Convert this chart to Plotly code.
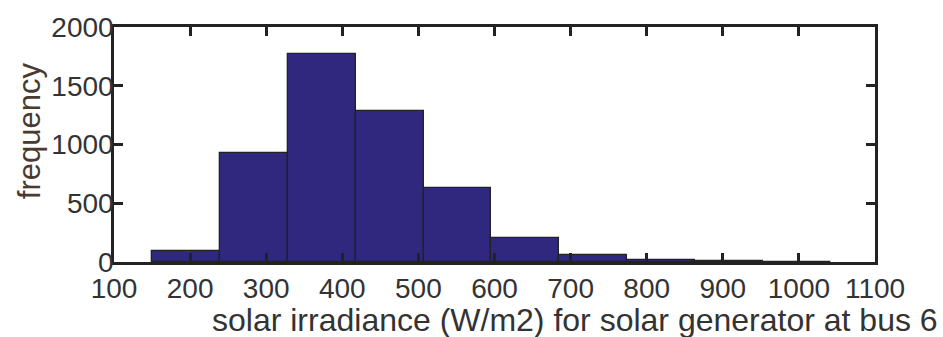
import plotly.graph_objects as go

# Histogram data
bin_left = [150, 239.2, 328.4, 417.6, 506.8, 596.0, 685.2, 774.4, 863.6, 952.8]
bin_width = 89.2
counts = [92, 928, 1767, 1281, 628, 206, 62, 18, 9, 4]

x_ticks = [100, 200, 300, 400, 500, 600, 700, 800, 900, 1000, 1100]
y_ticks = [0, 500, 1000, 1500, 2000]

x_title = "solar irradiance (W/m2) for solar generator at bus 6"
y_title = "frequency"

centers = [b + bin_width / 2 for b in bin_left]

fig = go.Figure()
fig.add_trace(go.Bar(
    x=centers, y=counts, width=[bin_width] * len(counts),
    marker=dict(color="#30287f", line=dict(color="#222222", width=1.3)),
    showlegend=False,
))

font_family = "Liberation Sans, Arial, sans-serif"
fig.update_layout(
    width=943, height=337,
    margin=dict(l=114, r=68, t=22, b=75),
    paper_bgcolor="white", plot_bgcolor="white",
    font=dict(family=font_family, size=28, color="#333333"),
    bargap=0,
)
axis_common = dict(
    showgrid=False, zeroline=False,
    showline=True, linecolor="#222222", linewidth=2.5, mirror="ticks",
    ticks="inside", ticklen=9, tickwidth=2.5, tickcolor="#222222",
    tickfont=dict(family=font_family, size=28, color="#333333"),
)
fig.update_xaxes(range=[100, 1100], tickvals=x_ticks,
                 ticktext=[str(v) for v in x_ticks], **axis_common)
fig.update_yaxes(range=[0, 2000], tickvals=y_ticks,
                 ticktext=[str(v) for v in y_ticks],
                 ticklabelstandoff=-8, **axis_common)

fig.add_annotation(text=x_title, xref="paper", yref="paper",
                   x=1.085, y=-0.246, xanchor="right", yanchor="middle",
                   showarrow=False,
                   font=dict(family=font_family, size=32, color="#333333"))
fig.add_annotation(text=y_title, xref="paper", yref="paper",
                   x=-0.110, y=0.558, xanchor="center", yanchor="middle",
                   textangle=-90, showarrow=False,
                   font=dict(family=font_family, size=31, color="#4a3a30"))

fig.write_html("out.html")
